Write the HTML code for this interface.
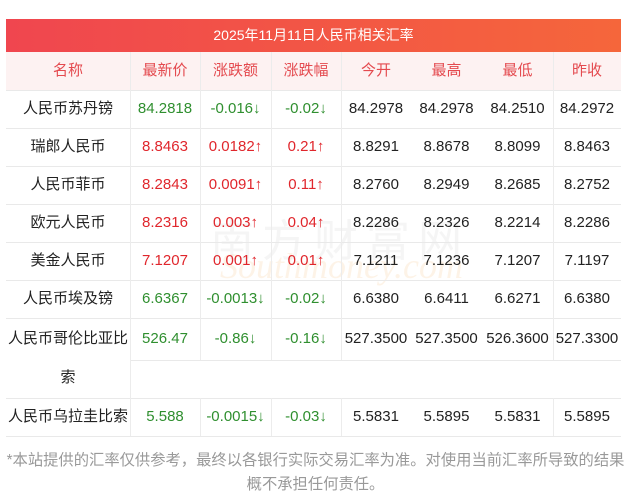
<!DOCTYPE html>
<html><head><meta charset="utf-8"><style>
body{margin:0;width:631px;height:500px;background:#fff;position:relative;overflow:hidden;font-family:"Liberation Sans","Noto Sans CJK SC",sans-serif;}
.t{position:absolute;left:6px;top:19px;width:615px;height:33px;background:linear-gradient(90deg,#f0464f,#f5663b);color:#fff;font-size:14px;line-height:33px;text-align:center;}
.hd{position:absolute;left:6px;top:52px;width:615px;height:38px;background:#fdf2f2;}
.c{position:absolute;text-align:center;font-size:15px;height:38px;line-height:38px;white-space:nowrap}
.h{color:#e44a4f;font-size:15px}
.g{color:#2f8f2f}.r{color:#e0262c}.k{color:#222}
.hl{position:absolute;left:6px;width:615px;height:1px;background:#e9e9e9}
.vl{position:absolute;width:1px;background:#ececec}
.f{position:absolute;left:0;width:631px;text-align:center;color:#999;font-size:15.3px;white-space:nowrap}
</style></head><body>
<div class="t">2025年11月11日人民币相关汇率</div>
<div class="hd"></div>
<div style="position:absolute;left:210px;top:205px;font-size:44px;color:rgba(200,200,200,0.18);letter-spacing:8px">南方财富网</div>
<div style="position:absolute;left:220px;top:245px;font-size:36px;font-style:italic;color:rgba(245,190,120,0.18);font-family:'Liberation Serif',serif">Southmoney.com</div>
<div id="g"></div>
<script>
var xs=[6,130,200,271,341,411,482,553,621];
var hd=["名称","最新价","涨跌额","涨跌幅","今开","最高","最低","昨收"];
var rows=[
["人民币苏丹镑","84.2818","-0.016↓","-0.02↓","84.2978","84.2978","84.2510","84.2972"],
["瑞郎人民币","8.8463","0.0182↑","0.21↑","8.8291","8.8678","8.8099","8.8463"],
["人民币菲币","8.2843","0.0091↑","0.11↑","8.2760","8.2949","8.2685","8.2752"],
["欧元人民币","8.2316","0.003↑","0.04↑","8.2286","8.2326","8.2214","8.2286"],
["美金人民币","7.1207","0.001↑","0.01↑","7.1211","7.1236","7.1207","7.1197"],
["人民币埃及镑","6.6367","-0.0013↓","-0.02↓","6.6380","6.6411","6.6271","6.6380"],
["人民币哥伦比亚比","526.47","-0.86↓","-0.16↓","527.3500","527.3500","526.3600","527.3300"],
["人民币乌拉圭比索","5.588","-0.0015↓","-0.03↓","5.5831","5.5895","5.5831","5.5895"]];
var tops=[90,128,166,204,242,280,318,398];
var h="";
function cell(i,y,txt,cls){h+='<div class="c '+cls+'" style="left:'+xs[i]+'px;top:'+y+'px;width:'+(xs[i+1]-xs[i])+'px">'+txt+'</div>';}
hd.forEach(function(t,i){cell(i,52,t,"h");});
rows.forEach(function(r,j){var y=tops[j];var col=r[2][0]=="-"?"g":"r";
 r.forEach(function(t,i){cell(i,y+(j==6?2:0),t,i==0?"k":(i<4?col:"k"));});});
cell(0,359,"索","k");
[90,128,166,204,242,280,318,436].forEach(function(y){h+='<div class="hl" style="top:'+y+'px"></div>';});
h+='<div class="hl" style="top:360px;left:130px;width:491px"></div>';
h+='<div class="hl" style="top:398px"></div>';
[130,200,271,341,553].forEach(function(x){h+='<div class="vl" style="left:'+x+'px;top:52px;height:308px"></div><div class="vl" style="left:'+x+'px;top:398px;height:38px"></div>';});
h+='<div class="vl" style="left:130px;top:360px;height:38px"></div>';
document.getElementById("g").innerHTML=h;
</script>
<div class="f" style="top:448px">*本站提供的汇率仅供参考，最终以各银行实际交易汇率为准。对使用当前汇率所导致的结果</div>
<div class="f" style="top:472px">概不承担任何责任。</div>
</body></html>
